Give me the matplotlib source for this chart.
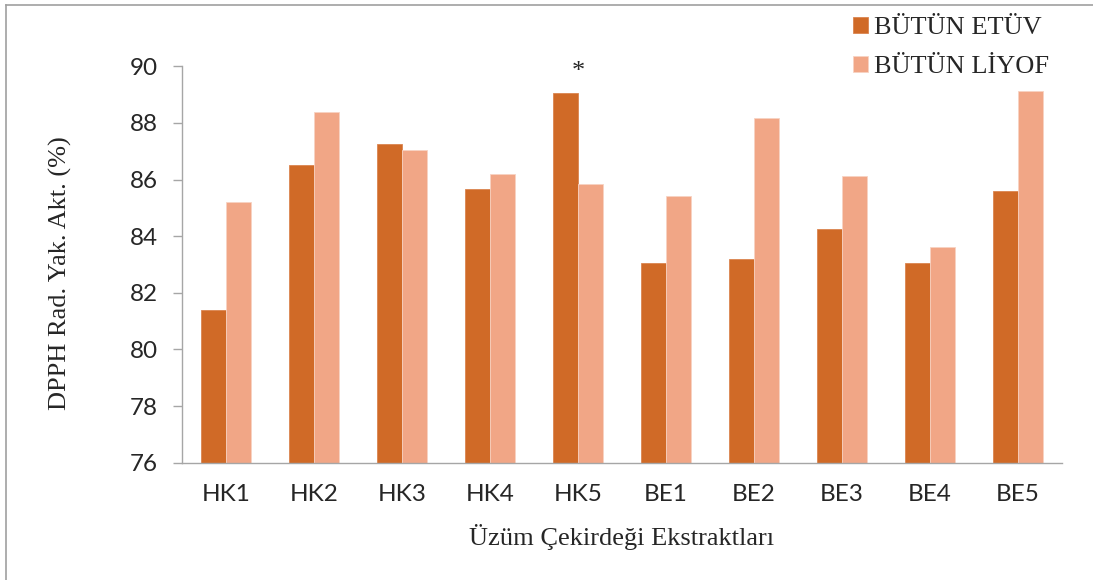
import matplotlib
matplotlib.use("Agg")
import matplotlib.pyplot as plt
import numpy as np
from matplotlib.lines import Line2D

categories = ["HK1", "HK2", "HK3", "HK4", "HK5", "BE1", "BE2", "BE3", "BE4", "BE5"]
etuv = [81.38, 86.53, 87.26, 85.66, 89.05, 83.05, 83.19, 84.24, 83.05, 85.59]
liyof = [85.19, 88.38, 87.05, 86.20, 85.86, 85.42, 88.19, 86.13, 83.61, 89.13]
series_names = ["BÜTÜN ETÜV", "BÜTÜN LİYOF"]
y_ticks = [76, 78, 80, 82, 84, 86, 88, 90]
marked_group = 4  # HK5 carries the significance star

DARK = "#d06a27"
LIGHT = "#f1a686"
TEXT = "#262626"
GRID = "#a6a6a6"
SERIF = ["Liberation Serif", "DejaVu Serif"]
SANS = ["Lato", "DejaVu Sans"]

W, H = 1093, 580
fig = plt.figure(figsize=(W / 100, H / 100), dpi=100)
fig.patch.set_facecolor("white")


def fx(px):
    return px / W


def fy(py):
    return 1 - py / H


ax = fig.add_axes([fx(182), fy(462.7), fx(1062) - fx(182), fy(66.3) - fy(462.7)])

x = np.arange(len(categories))
width = 0.284
b1 = ax.bar(x - width / 2, etuv, width, color=DARK, edgecolor="#da8550", linewidth=0.6, zorder=2)
b2 = ax.bar(x + width / 2, liyof, width, color=LIGHT, edgecolor="#f8d3c3", linewidth=0.6, zorder=2)

ax.set_xlim(-0.5, len(categories) - 0.5)
ax.set_ylim(76, 90)
ax.set_yticks(y_ticks)
ax.set_xticks(x)
ax.set_xticklabels(categories)

for s in ["top", "right"]:
    ax.spines[s].set_visible(False)
for s in ["left", "bottom"]:
    ax.spines[s].set_color(GRID)
    ax.spines[s].set_linewidth(1.0)

ax.tick_params(axis="y", direction="out", length=6.5, width=1.0, color=GRID, pad=11,
               labelsize=17.5, labelcolor=TEXT)
ax.tick_params(axis="x", length=0, pad=15, labelsize=17.5, labelcolor=TEXT)
for lab in ax.get_xticklabels() + ax.get_yticklabels():
    lab.set_family(SANS)

# significance mark above HK5
ax.text(marked_group, 89.8, "*", ha="center", va="center", fontsize=19,
        family=SERIF, color=TEXT, clip_on=False)

fig.text(fx(60), fy(273), "DPPH Rad. Yak. Akt. (%)", rotation=90, ha="center",
         va="center", fontsize=19, family=SERIF, color=TEXT)
fig.text(fx(622), fy(545), "Üzüm Çekirdeği Ekstraktları", ha="center",
         va="baseline", fontsize=19, family=SERIF, color=TEXT)

leg = fig.legend([b1, b2], series_names, loc="upper left",
                 bbox_to_anchor=(fx(853), fy(17)), frameon=False,
                 prop={"family": SERIF, "size": 19}, handlelength=0.55,
                 handleheight=0.55, handletextpad=0.25, labelspacing=0.62,
                 borderpad=0, borderaxespad=0)
for t in leg.get_texts():
    t.set_color(TEXT)

# thin frame lines at the top and left edges of the canvas
fig.add_artist(Line2D([fx(6), fx(6)], [fy(4.7), 0], color="#a0a0a0", lw=1.2))
fig.add_artist(Line2D([fx(6), 1], [fy(4.7), fy(4.7)], color="#a0a0a0", lw=1.2))

fig.savefig("out.png", dpi=100, facecolor="white")
